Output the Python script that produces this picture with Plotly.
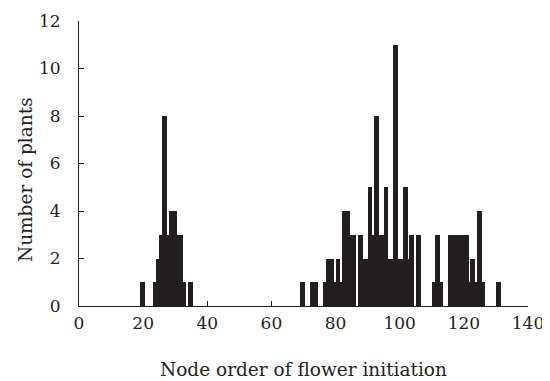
import plotly.graph_objects as go

# Node order of flower initiation (bin start) and number of plants
nodes = [19, 23, 24, 25, 26, 27, 28, 29, 30, 31, 32, 34,
         69, 72, 73, 76, 77, 78, 79, 80, 81, 82, 83, 84, 85, 87, 88, 89,
         90, 91, 92, 93, 94, 95, 96, 97, 98, 99, 100, 101, 102, 103, 105,
         110, 111, 112, 115, 116, 117, 118, 119, 120, 121, 122, 123, 124, 125, 130]
counts = [1, 1, 2, 3, 8, 3, 4, 4, 3, 3, 1, 1,
          1, 1, 1, 1, 2, 2, 1, 2, 1, 4, 4, 3, 3, 3, 2, 2,
          5, 3, 8, 3, 3, 5, 2, 2, 11, 2, 2, 5, 2, 3, 3,
          1, 3, 1, 3, 3, 3, 3, 3, 3, 1, 2, 1, 4, 1, 1]

x_ticks = [0, 20, 40, 60, 80, 100, 120, 140]
y_ticks = [0, 2, 4, 6, 8, 10, 12]

# taller bars drawn on top of shorter neighbours
order = sorted(range(len(nodes)), key=lambda i: (counts[i], nodes[i]))
xs = [nodes[i] for i in order]
ys = [counts[i] for i in order]

ink = "#231f20"
font_family = "DejaVu Serif, Liberation Serif, serif"
fs = 17
title_fs = 18.5

fig = go.Figure(go.Bar(
    x=xs, y=ys, width=1.5, offset=0,
    marker=dict(color=ink, line=dict(color="white", width=0)),
    hoverinfo="x+y",
))

# the page body adds an 8px offset, so the figure is 8px smaller
fig.update_layout(
    width=542, height=373,
    margin=dict(l=71, r=22, t=13, b=75),
    paper_bgcolor="white", plot_bgcolor="white",
    showlegend=False,
    font=dict(family=font_family, size=fs, color=ink),
    bargap=0,
)
fig.update_xaxes(
    range=[0, 140], tickvals=x_ticks, ticktext=[str(v) for v in x_ticks],
    showline=True, linecolor=ink, linewidth=1,
    ticks="inside", ticklen=5, tickcolor=ink, tickwidth=1,
    showgrid=False, zeroline=False, automargin=False,
    ticklabelstandoff=2,
    title=dict(text="Node order of flower initiation", standoff=30,
               font=dict(family=font_family, size=title_fs, color=ink)),
    tickfont=dict(family=font_family, size=fs, color=ink),
)
fig.update_yaxes(
    range=[0, 12], tickvals=y_ticks, ticktext=[str(v) for v in y_ticks],
    showline=True, linecolor=ink, linewidth=1,
    ticks="inside", ticklen=5, tickcolor=ink, tickwidth=1,
    showgrid=False, zeroline=False, automargin=False,
    ticklabelstandoff=14,
    tickfont=dict(family=font_family, size=fs, color=ink),
)
fig.add_annotation(
    text="Number of plants", textangle=-90,
    xref="paper", yref="paper", x=0, y=0.442, xshift=-54,
    xanchor="center", yanchor="middle", showarrow=False,
    font=dict(family=font_family, size=title_fs, color=ink),
)

fig.write_html("out.html")
